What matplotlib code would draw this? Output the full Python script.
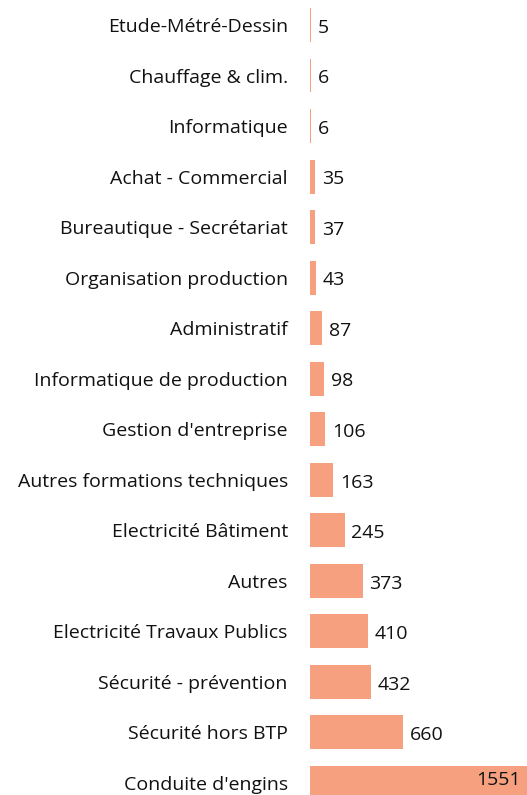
#!/usr/bin/env python3
"""Horizontal bar chart: number of trainees per training domain."""

import matplotlib

matplotlib.use("Agg")
import matplotlib.pyplot as plt

categories = [
    "Etude-Métré-Dessin",
    "Chauffage & clim.",
    "Informatique",
    "Achat - Commercial",
    "Bureautique - Secrétariat",
    "Organisation production",
    "Administratif",
    "Informatique de production",
    "Gestion d'entreprise",
    "Autres formations techniques",
    "Electricité Bâtiment",
    "Autres",
    "Electricité Travaux Publics",
    "Sécurité - prévention",
    "Sécurité hors BTP",
    "Conduite d'engins",
]
values = [5, 6, 6, 35, 37, 43, 87, 98, 106, 163, 245, 373, 410, 432, 660, 1551]

BAR_COLOR = "#F6A07F"
TEXT_COLOR = "#111111"
W, H = 527, 795

plt.rcParams["font.family"] = ["Open Sans", "DejaVu Sans"]

fig = plt.figure(figsize=(W / 100, H / 100), dpi=100)
px_per_unit = 0.141
ax_left = 310 / W
ax_width = max(values) * px_per_unit / W
row = 50.53
ax_top_px = 25 - row / 2
ax_h_px = row * len(categories)
ax = fig.add_axes([ax_left, 1 - (ax_top_px + ax_h_px) / H, ax_width, ax_h_px / H])

ypos = range(len(categories))
ax.barh(ypos, values, height=0.67, color=BAR_COLOR)
ax.set_xlim(0, max(values))
ax.set_ylim(len(categories) - 0.5, -0.5)

ax.set_yticks(list(ypos))
ax.set_yticklabels(categories, fontsize=14, color=TEXT_COLOR)
ax.tick_params(axis="y", length=0, pad=16)
ax.set_xticks([])
for s in ax.spines.values():
    s.set_visible(False)

for i, v in enumerate(values):
    if v == max(values):
        ax.annotate(str(v), (v, i), xytext=(-6, 2), textcoords="offset points",
                    ha="right", va="center", fontsize=14, color=TEXT_COLOR)
    else:
        ax.annotate(str(v), (v, i), xytext=(5, -2), textcoords="offset points",
                    ha="left", va="center", fontsize=14, color=TEXT_COLOR)

fig.savefig("out.png", dpi=100)
